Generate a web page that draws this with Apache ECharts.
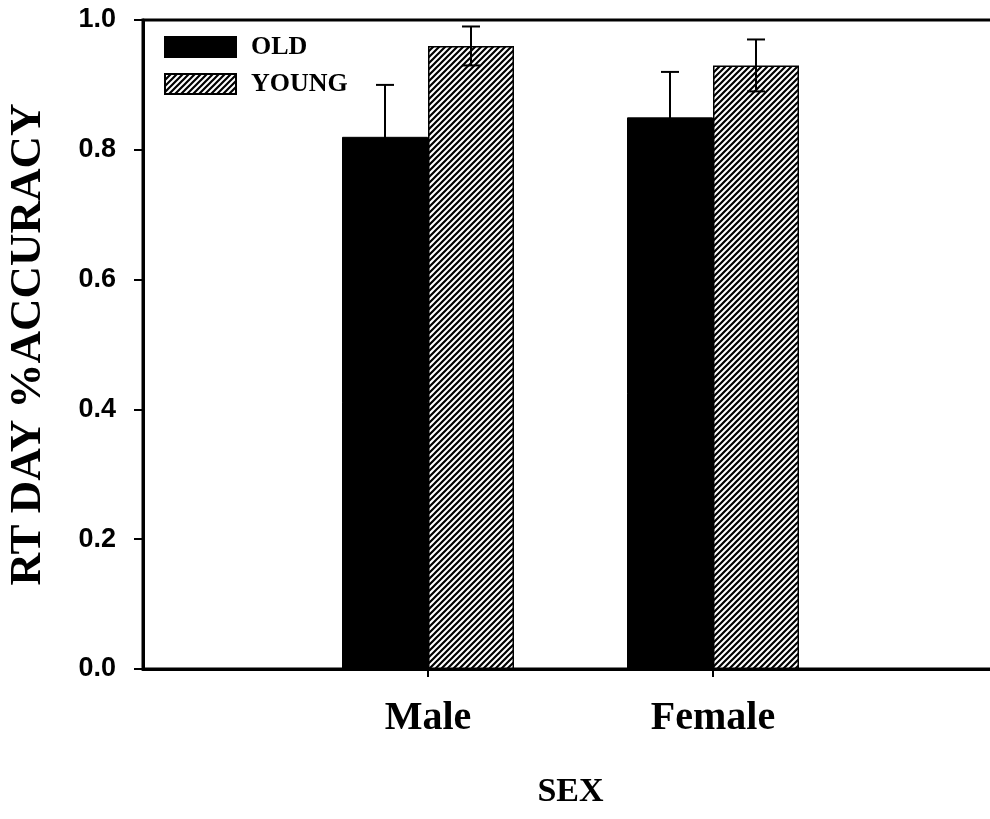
<!DOCTYPE html>
<html>
<head>
<meta charset="utf-8">
<script src="https://cdn.jsdelivr.net/npm/echarts@6/dist/echarts.min.js"></script>
<style>
    html, body { margin: 0; padding: 0; background: #fff; }
    #chart { width: 990px; height: 819px; }
</style>
</head>
<body>
<div id="chart"></div>
<script>
// Data
const categories = ['Male', 'Female'];
const oldValues = [0.82, 0.85];
const oldErrors = [0.08, 0.07];
const youngValues = [0.96, 0.93];
const youngErrors = [0.03, 0.04];
const yTicks = [0.0, 0.2, 0.4, 0.6, 0.8, 1.0];

// Pad the category list so the groups sit at the same spacing as the original
const axisCats = [''].concat(categories, ['']);
const pad = arr => [null].concat(arr, [null]);

// Diagonal hatch for the YOUNG bars
function makeHatch() {
    const c = document.createElement('canvas');
    c.width = 6;
    c.height = 6;
    const ctx = c.getContext('2d');
    ctx.fillStyle = '#fff';
    ctx.fillRect(0, 0, 6, 6);
    ctx.strokeStyle = '#000';
    ctx.lineWidth = 2.2;
    ctx.beginPath();
    ctx.moveTo(-1, 7); ctx.lineTo(7, -1);
    ctx.moveTo(-1, 1); ctx.lineTo(1, -1);
    ctx.moveTo(5, 7); ctx.lineTo(7, 5);
    ctx.stroke();
    return c;
}

const hatch = { image: makeHatch(), repeat: 'repeat' };
const BAR_W = 86;

function errorSeries(name, values, errors, offset) {
    const data = values.map((v, i) => [i + 1, v, errors[i]]);
    return {
        name: name + ' err',
        type: 'custom',
        z: 5,
        silent: true,
        renderItem: function(params, api) {
            const x = api.value(0);
            const v = api.value(1);
            const e = api.value(2);
            const hi = api.coord([x, v + e]);
            const lo = api.coord([x, v - e]);
            const cx = hi[0] + offset;
            const cap = 9;
            const style = { stroke: '#000', lineWidth: 2 };
            return {
                type: 'group',
                children: [
                    { type: 'line', shape: { x1: cx, y1: hi[1], x2: cx, y2: lo[1] }, style: style },
                    { type: 'line', shape: { x1: cx - cap, y1: hi[1], x2: cx + cap, y2: hi[1] }, style: style },
                    { type: 'line', shape: { x1: cx - cap, y1: lo[1], x2: cx + cap, y2: lo[1] }, style: style }
                ]
            };
        },
        data: data
    };
}

const chart = echarts.init(document.getElementById('chart'));

const option = {
    animation: false,
    grid: {
        left: 143,
        top: 20,
        width: 855,
        bottom: 150,
        outerBoundsMode: 'none',
        containLabel: false,
        show: true,
        borderColor: '#000',
        borderWidth: 3,
        backgroundColor: 'transparent'
    },
    legend: {
        orient: 'vertical',
        left: 159,
        top: 29,
        itemWidth: 71,
        itemHeight: 20,
        itemGap: 11,
        icon: 'rect',
        data: ['OLD', 'YOUNG'],
        textStyle: {
            fontFamily: 'Liberation Serif',
            fontWeight: 'bold',
            fontSize: 26,
            color: '#000',
            padding: [0, 0, 0, 10]
        }
    },
    xAxis: {
        type: 'category',
        data: axisCats,
        boundaryGap: false,
        name: 'SEX',
        nameLocation: 'middle',
        nameGap: 106,
        nameTextStyle: {
            fontFamily: 'Liberation Serif',
            fontWeight: 'bold',
            fontSize: 34,
            color: '#000'
        },
        axisLine: { lineStyle: { color: '#000', width: 3 } },
        axisTick: {
            inside: false,
            length: 8,
            interval: function(i) { return i >= 1 && i <= categories.length; },
            lineStyle: { color: '#000', width: 2 }
        },
        axisLabel: {
            margin: 30,
            interval: 0,
            fontFamily: 'Liberation Serif',
            fontWeight: 'bold',
            fontSize: 40,
            color: '#000'
        },
        splitLine: { show: false }
    },
    yAxis: {
        type: 'value',
        min: 0,
        max: 1,
        interval: 0.2,
        name: 'RT DAY %ACCURACY',
        nameLocation: 'middle',
        nameGap: 92,
        nameRotate: 90,
        nameTextStyle: {
            fontFamily: 'Liberation Serif',
            fontWeight: 'bold',
            fontSize: 45,
            color: '#000'
        },
        axisLine: { show: true, lineStyle: { color: '#000', width: 3 } },
        axisTick: { show: true, length: 9, lineStyle: { color: '#000', width: 2 } },
        axisLabel: {
            margin: 27,
            fontFamily: 'Liberation Sans',
            fontWeight: 'bold',
            fontSize: 27,
            color: '#000',
            formatter: function(v) {
                const t = yTicks.find(k => Math.abs(k - v) < 1e-9);
                return (t === undefined ? v : t).toFixed(1);
            }
        },
        splitLine: { show: false }
    },
    series: [
        {
            name: 'OLD',
            type: 'bar',
            barWidth: BAR_W,
            barGap: '0%',
            itemStyle: { color: '#000', borderColor: '#000', borderWidth: 1 },
            data: pad(oldValues)
        },
        {
            name: 'YOUNG',
            type: 'bar',
            barWidth: BAR_W,
            barGap: '0%',
            itemStyle: { color: hatch, borderColor: '#000', borderWidth: 1.5 },
            data: pad(youngValues)
        },
        errorSeries('OLD', oldValues, oldErrors, -BAR_W / 2),
        errorSeries('YOUNG', youngValues, youngErrors, BAR_W / 2)
    ]
};

chart.setOption(option);
</script>
</body>
</html>
